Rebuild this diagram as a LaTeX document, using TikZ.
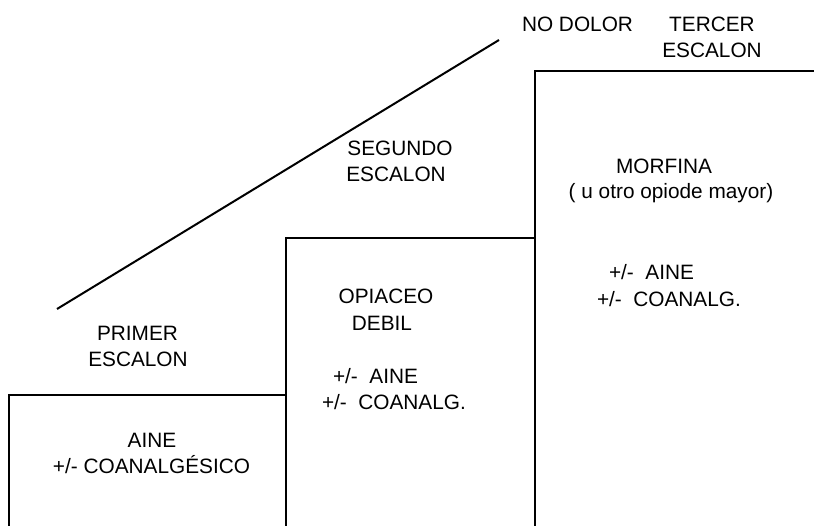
\documentclass[tikz,border=0pt]{standalone}
\usepackage{fontspec}
\setmainfont{Liberation Sans}
\begin{document}
\begin{tikzpicture}[x=1pt,y=-1pt,
  lbl/.style={inner sep=0pt,outer sep=0pt,font=\fontsize{20.8}{26}\selectfont},
  stepline/.style={line width=2.9pt,line cap=rect},
  diag/.style={line width=2pt}]
\useasboundingbox (0,0) rectangle (814,526);
% steps
\draw[stepline] (9,530) -- (9,395) -- (286,395);
\draw[stepline] (286,530) -- (286,238) -- (535,238);
\draw[stepline] (535,530) -- (535,71) -- (820,71);
% diagonal
\coordinate (d1) at (57,309);
\coordinate (d2) at (499,40);
\draw[diag] (d1) -- (d2);
% top labels
\node[lbl,anchor=base] (nodolor) at (577.5,32) {NO DOLOR};
\node[lbl,anchor=base] (tercer) at (712,32) {TERCER};
\node[lbl,anchor=base] (tercer2) at (712,58) {ESCALON};
\node[lbl,anchor=base] (segundo) at (400,155.5) {SEGUNDO};
\node[lbl,anchor=base] (segundo2) at (396,181.5) {ESCALON};
\node[lbl,anchor=base] (primer) at (137.5,340.5) {PRIMER};
\node[lbl,anchor=base] (primer2) at (138,366.5) {ESCALON};
% box 1
\node[lbl,anchor=base] (aine1) at (152,447.5) {AINE};
\node[lbl,anchor=base] (coan1) at (151.5,473.5) {+/- COANALGÉSICO};
% box 2
\node[lbl,anchor=base] (opi) at (386,303.5) {OPIACEO};
\node[lbl,anchor=base] (debil) at (382,330.5) {DEBIL};
\node[lbl,anchor=base west] (aine2) at (333,383.5) {+/-\ \ AINE};
\node[lbl,anchor=base west] (coan2) at (322,409.5) {+/-\ \ COANALG.};
% box 3
\node[lbl,anchor=base] (morf) at (664,174) {MORFINA};
\node[lbl,anchor=base] (otro) at (671,199) {( u otro opiode mayor)};
\node[lbl,anchor=base west] (aine3) at (609,280) {+/-\ \ AINE};
\node[lbl,anchor=base west] (coan3) at (597,307) {+/-\ \ COANALG.};
\end{tikzpicture}
\end{document}
